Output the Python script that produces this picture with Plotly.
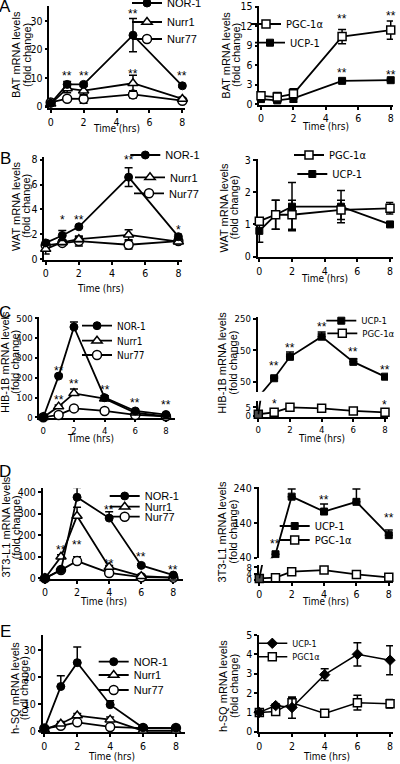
import plotly.graph_objects as go

# ------------------------------------------------------------------ data
t_ab = [0, 1, 2, 5, 8]
t_cde = [0, 1, 2, 4, 6, 8]
x_ticks = [0, 2, 4, 6, 8]

# A  (BAT)
A_nor1 = [1.2, 7.8, 7.8, 25.0, 7.3]
A_nor1_err = [0.4, 1.0, 0.6, 5.8, 0.5]
A_nurr1 = [1.0, 6.4, 5.6, 8.2, 2.7]
A_nurr1_err = [0.5, 1.5, 1.5, 2.8, 0.6]
A_nur77 = [1.5, 2.8, 2.7, 4.3, 2.1]
A_nur77_err = [0.5, 0.5, 1.5, 1.3, 0.5]
A_pgc = [1.3, 1.1, 1.6, 10.4, 11.4]
A_pgc_err = [0.4, 0.7, 0.8, 1.1, 1.4]
A_ucp = [0.8, 0.6, 0.9, 3.6, 3.7]
A_ucp_err = [0.3, 0.3, 0.6, 0.2, 0.2]

# B  (WAT)
B_nor1 = [1.3, 1.9, 2.6, 6.6, 1.8]
B_nor1_err = [0.2, 0.4, 0.1, 0.75, 0.2]
B_nurr1 = [0.8, 1.35, 1.6, 1.95, 1.4]
B_nurr1_err = [0.4, 0.2, 0.2, 0.4, 0.15]
B_nur77 = [1.1, 1.3, 1.45, 1.15, 1.45]
B_nur77_err = [0.2, 0.2, 0.4, 0.35, 0.2]
B_pgc = [1.1, 1.3, 1.3, 1.45, 1.5]
B_pgc_err = [0.1, 0.45, 0.45, 0.3, 0.18]
B_ucp = [0.8, 1.3, 1.55, 1.55, 1.0]
B_ucp_err = [0.35, 0.45, 0.75, 0.5, 0.05]

# C  (HIB-1B)
C_nor1 = [0, 208, 456, 99, 32, 14]
C_nor1_err = [0, 10, 25, 10, 8, 3]
C_nurr1 = [0, 54, 121, 94, 23, 4]
C_nurr1_err = [0, 8, 22, 15, 5, 2]
C_nur77 = [0, 12, 45, 32, 12, 5]
C_nur77_err = [0, 3, 5, 4, 3, 2]
C_ucp = [1, 61, 129, 193, 113, 66]
C_ucp_err = [0, 4, 15, 15, 10, 4]
C_pgc = [1, 2.1, 5.0, 4.4, 2.9, 2.1]
C_pgc_err = [0, 0.3, 0.4, 0.4, 0.3, 0.3]

# D  (3T3-L1)
D_nor1 = [0, 40, 377, 280, 60, 15]
D_nor1_err = [0, 5, 45, 30, 8, 5]
D_nurr1 = [0, 100, 290, 52, 10, 3]
D_nurr1_err = [0, 10, 40, 8, 3, 2]
D_nur77 = [0, 38, 80, 25, 5, 3]
D_nur77_err = [0, 5, 20, 5, 2, 2]
D_ucp = [1, 50, 216, 173, 201, 105]
D_ucp_err = [0, 0, 22, 22, 37, 15]
D_pgc = [1, 1.5, 5.2, 6.2, 3.5, 1.7]
D_pgc_err = [0, 0.3, 0.5, 0.5, 0.4, 0.3]

# E  (h-SQ)
E_nor1 = [1, 16.5, 25.3, 9.8, 1.3, 1.2]
E_nor1_err = [0, 4.0, 5.8, 1.5, 0.3, 0.3]
E_nurr1 = [0.6, 2.8, 5.8, 4.3, 0.2, 0.2]
E_nurr1_err = [0, 0.8, 0.8, 1.0, 0.2, 0.2]
E_nur77 = [1, 2.0, 3.3, 1.6, 1.2, 1.2]
E_nur77_err = [0, 0.3, 0.4, 0.3, 0.2, 0.2]
E_ucp = [1.0, 1.35, 1.25, 2.95, 4.0, 3.7]
E_ucp_err = [0.05, 0.1, 0.55, 0.3, 0.6, 0.75]
E_pgc = [1.0, 1.05, 1.5, 0.95, 1.5, 1.45]
E_pgc_err = [0.05, 0.05, 0.25, 0.05, 0.38, 0.22]

# significance marks: (time, value, label)
A_left_stars = [(1, 11.9, "**"), (2, 11.9, "**"), (5, 33.6, "**"), (5, 12.5, "**"), (8, 11.9, "**")]
A_right_stars = [(5, 13.5, "**"), (8, 14.1, "**"), (5, 5.3, "**"), (8, 5.0, "**")]
B_left_stars = [(1, 3.4, "*"), (2, 3.4, "**"), (5, 8.2, "**"), (8, 2.56, "*")]
C_left_stars = [(1, 249, "**"), (2, 556, "**"), (2, 183, "**"), (1, 104, "**"), (4, 151, "**"), (6, 87, "**"), (8, 76, "**")]
C_right_up_stars = [(1, 108, "**"), (2, 166, "**"), (4, 233, "**"), (6, 154, "**"), (8, 98, "**")]
C_right_low_stars = [(1, 8.8, "*"), (2, 11.7, "**"), (4, 9.6, "**"), (6, 9.2, "*"), (8, 7.9, "*")]
D_left_stars = [(1, 144, "**"), (2, 438, "**"), (2, 167, "**"), (4, 333, "**"), (4, 80, "**"), (6, 113, "**"), (8, 54, "**")]
D_right_up_stars = [(1, 89, "**"), (2, 269, "**"), (4, 216, "**"), (6, 257, "**"), (8, 163, "**")]
D_right_low_stars = [(2, 11.9, "**"), (4, 12.5, "**"), (6, 11.1, "**"), (8, 13.1, "#")]

# ------------------------------------------------------------------ layout helpers
W, H = 400, 764
FONT = "Arial, Liberation Sans, Helvetica, sans-serif"
NARROW = "Liberation Sans Narrow, Arial Narrow, DejaVu Sans Condensed, Arial, Liberation Sans, sans-serif"


def tickfont(size=10.5):
    return dict(size=size, family=NARROW, color="black")


def xaxis(l, r, rng, anchor, fs=10.5):
    return dict(domain=[l / W, r / W], range=rng, anchor=anchor, showline=True,
                linecolor="black", linewidth=1.5, ticks="outside", ticklen=3,
                tickwidth=1.5, tickcolor="black", tickvals=x_ticks, showgrid=False,
                zeroline=False, tickfont=tickfont(fs), layer="below traces")


def yaxis(top, bot, rng, anchor, ticks, fs=10.5):
    return dict(domain=[1 - bot / H, 1 - top / H], range=rng, anchor=anchor, showline=True,
                linecolor="black", linewidth=1.5, ticks="outside", ticklen=3,
                tickwidth=1.5, tickcolor="black", tickvals=ticks, showgrid=False,
                zeroline=False, tickfont=tickfont(fs), layer="below traces")


STYLE = {
    "fcircle": dict(symbol="circle", color="black", size=8, line=dict(color="black", width=1)),
    "otri": dict(symbol="triangle-up", color="white", size=9, line=dict(color="black", width=1.5)),
    "ocircle": dict(symbol="circle", color="white", size=9, line=dict(color="black", width=1.5)),
    "osquare": dict(symbol="square", color="white", size=8, line=dict(color="black", width=1.5)),
    "fsquare": dict(symbol="square", color="black", size=7, line=dict(color="black", width=1)),
    "fdiamond": dict(symbol="diamond", color="black", size=8, line=dict(color="black", width=1)),
}

fig = go.Figure()
layout = {}
annotations = []
legend_count = [0]


def new_legend(text_x, cy, fs=11, fam=FONT):
    legend_count[0] += 1
    n = legend_count[0]
    key = "legend" if n == 1 else "legend%d" % n
    layout[key] = dict(x=(text_x - 37) / W, y=1 - cy / H, xanchor="left", yanchor="middle",
                       bgcolor="rgba(0,0,0,0)", borderwidth=0, itemwidth=30,
                       font=dict(size=fs, family=fam, color="black"), tracegroupgap=0)
    return key


def series(x, y, err, xa, ya, style, name, leg=None, up_only=False, lw=1.8,
           sizes=None, clip=False, show_err=True):
    m = dict(STYLE[style])
    if sizes is not None:
        m["size"] = sizes
    tr = dict(x=x, y=y, xaxis=xa, yaxis=ya, mode="lines+markers", name=name,
              line=dict(color="black", width=lw), marker=m, cliponaxis=clip,
              showlegend=leg is not None)
    if leg is not None:
        tr["legend"] = leg
    if show_err and err is not None:
        tr["error_y"] = dict(type="data", array=err,
                             arrayminus=[0] * len(err) if up_only else err,
                             symmetric=False, color="black", thickness=1.5, width=4)
    fig.add_trace(go.Scatter(**tr))


def stars(lst, xa, ya):
    for (tx, vy, lab) in lst:
        annotations.append(dict(x=tx, y=vy, xref=xa, yref=ya, text=lab, showarrow=False,
                                font=dict(size=12, family=FONT, color="black"),
                                xanchor="center", yanchor="middle",
                                yshift=-3 if lab.startswith("*") else 0))


def ytitle(l1, l2, x1, x2, cy):
    for txt, xx in ((l1, x1), (l2, x2)):
        annotations.append(dict(x=xx / W, y=1 - cy / H, xref="paper", yref="paper", text=txt,
                                textangle=-90, showarrow=False, xanchor="center", yanchor="middle",
                                font=dict(size=11, family=FONT, color="black")))


def xtitle(cx, cy):
    annotations.append(dict(x=cx / W, y=1 - cy / H, xref="paper", yref="paper", text="Time (hrs)",
                            showarrow=False, xanchor="center", yanchor="middle",
                            font=dict(size=10, family=NARROW, color="black")))


def letter(txt, cx, cy):
    annotations.append(dict(x=cx / W, y=1 - cy / H, xref="paper", yref="paper", text=txt,
                            showarrow=False, xanchor="center", yanchor="middle",
                            font=dict(size=17, family=FONT, color="black")))


# ------------------------------------------------------------------ panel A
layout["xaxis"] = xaxis(49.3, 185, [-0.085, 8.16], "y")
layout["yaxis"] = yaxis(6, 108.3, [-0.56, 35.2], "x", [0, 10, 20, 30])
series(t_ab, A_nur77, A_nur77_err, "x", "y", "ocircle", "Nur77", new_legend(164, 39))
series(t_ab, A_nurr1, A_nurr1_err, "x", "y", "otri", "Nurr1", new_legend(164, 22))
series(t_ab, A_nor1, A_nor1_err, "x", "y", "fcircle", "NOR-1", new_legend(164, 3))
stars(A_left_stars, "x", "y")
ytitle("BAT mRNA levels", "(fold change)", 16, 27, 55)
xtitle(116.7, 128.3)
letter("A", 5, 7)

layout["xaxis2"] = xaxis(259.3, 393, [-0.105, 8.14], "y2")
layout["yaxis2"] = yaxis(6, 105, [-0.11, 15.1], "x2", [0, 3, 6, 9, 12, 15])
series(t_ab, A_ucp, A_ucp_err, "x2", "y2", "fsquare", "UCP-1", new_legend(287, 42.7, 11, NARROW))
series(t_ab, A_pgc, A_pgc_err, "x2", "y2", "osquare", "PGC-1α", new_legend(283, 24, 11, NARROW))
stars(A_right_stars, "x2", "y2")
ytitle("BAT mRNA levels", "(fold change)", 225.7, 236, 55)
xtitle(325, 126.7)

# ------------------------------------------------------------------ panel B
layout["xaxis3"] = xaxis(44.3, 181.7, [-0.084, 8.2], "y3")
layout["yaxis3"] = yaxis(156.7, 260, [-0.08, 8.25], "x3", [0, 2, 4, 6, 8])
series(t_ab, B_nur77, B_nur77_err, "x3", "y3", "ocircle", "Nur77", new_legend(166, 193.3))
series(t_ab, B_nurr1, B_nurr1_err, "x3", "y3", "otri", "Nurr1", new_legend(167, 177.3))
series(t_ab, B_nor1, B_nor1_err, "x3", "y3", "fcircle", "NOR-1", new_legend(162.3, 155))
stars(B_left_stars, "x3", "y3")
ytitle("WAT mRNA levels", "(fold change)", 16, 26, 206)
xtitle(100.7, 288.3)
letter("B", 5, 158)

layout["xaxis4"] = xaxis(257.7, 393.3, [-0.1, 8.2], "y4")
layout["yaxis4"] = yaxis(159.3, 257.3, [-0.02, 3.02], "x4", [0, 1, 2, 3])
series(t_ab, B_ucp, B_ucp_err, "x4", "y4", "fsquare", "UCP-1", new_legend(329.3, 174, 11, NARROW))
series(t_ab, B_pgc, B_pgc_err, "x4", "y4", "osquare", "PGC-1α", new_legend(326, 155, 11, NARROW))
ytitle("WAT mRNA levels", "(fold change)", 224, 234, 207.5)
xtitle(324, 278.3)

# ------------------------------------------------------------------ panel C
layout["xaxis5"] = xaxis(39.3, 175, [-0.26, 8.59], "y5", 9.5)
layout["yaxis5"] = yaxis(316.7, 417.7, [-2, 508], "x5", [0, 100, 200, 300, 400, 500], 9.5)
series(t_cde, C_nur77, C_nur77_err, "x5", "y5", "ocircle", "Nur77", new_legend(114, 355, 10, NARROW), up_only=True)
series(t_cde, C_nurr1, C_nurr1_err, "x5", "y5", "otri", "Nurr1", new_legend(114, 340.7, 10, NARROW), up_only=True)
series(t_cde, C_nor1, C_nor1_err, "x5", "y5", "fcircle", "NOR-1", new_legend(114, 325.7, 10, NARROW), up_only=True)
stars(C_left_stars, "x5", "y5")
ytitle("HIB-1B mRNA levels", "(fold change)", 5, 15, 362)
xtitle(90, 438.3)
letter("C", 5, 313)

layout["xaxis6"] = xaxis(257.5, 388, [-0.05, 8.19], "y6", 9.5)
layout["yaxis6"] = yaxis(400.7, 417.3, [-0.75, 8.8], "x6", [0, 5], 9.5)
layout["yaxis7"] = yaxis(317, 391.7, [18.3, 255.4], "x6", [50, 150, 250], 9.5)
series(t_cde, C_pgc, C_pgc_err, "x6", "y6", "osquare", "PGC-1α", new_legend(359.3, 333.3, 9.5, NARROW), up_only=True)
series(t_cde[:2], C_ucp[:2], None, "x6", "y6", "fsquare", "UCP-1", None, sizes=[7, 0], clip=False)
series(t_cde, C_ucp, C_ucp_err, "x6", "y7", "fsquare", "UCP-1", new_legend(358.3, 320.7, 9.5, NARROW), up_only=True, clip=True)
stars(C_right_up_stars, "x6", "y7")
stars(C_right_low_stars, "x6", "y6")
ytitle("HIB-1B mRNA levels", "(fold change)", 221.7, 232.7, 363)
xtitle(321.7, 438.3)

# ------------------------------------------------------------------ panel D
layout["xaxis7"] = xaxis(42.7, 183, [-0.14, 8.6], "y8")
layout["yaxis8"] = yaxis(488.3, 579, [-3.3, 418.6], "x7", [0, 100, 200, 300, 400])
series(t_cde, D_nur77, D_nur77_err, "x7", "y8", "ocircle", "Nur77", new_legend(141.7, 516.7), up_only=True)
series(t_cde, D_nurr1, D_nurr1_err, "x7", "y8", "otri", "Nurr1", new_legend(141.7, 506.7), up_only=True)
series(t_cde, D_nor1, D_nor1_err, "x7", "y8", "fcircle", "NOR-1", new_legend(141.7, 496), up_only=True)
stars(D_left_stars, "x7", "y8")
ytitle("3T3-L1 mRNA levels", "(fold change)", 5, 15, 527.5)
xtitle(103.3, 601.7)
letter("D", 5, 471)

layout["xaxis8"] = xaxis(258.5, 393, [-0.05, 8.26], "y9")
layout["yaxis9"] = yaxis(565, 581, [-0.6, 9.4], "x8", [0, 4, 8], 9.5)
layout["yaxis10"] = yaxis(486.7, 558.3, [38.3, 244.6], "x8", [40, 140, 240])
series(t_cde, D_pgc, D_pgc_err, "x8", "y9", "osquare", "PGC-1α", new_legend(311.7, 540, 11, NARROW), up_only=True)
series(t_cde[:2], D_ucp[:2], None, "x8", "y9", "fsquare", "UCP-1", None, sizes=[7, 0], clip=False)
series(t_cde, D_ucp, D_ucp_err, "x8", "y10", "fsquare", "UCP-1", new_legend(311.7, 526, 11, NARROW), up_only=True, clip=True)
stars(D_right_up_stars, "x8", "y10")
stars(D_right_low_stars, "x8", "y9")
ytitle("3T3-L1 mRNA levels", "(fold change)", 221.7, 233, 531.7)
xtitle(325, 601)

# ------------------------------------------------------------------ panel E
layout["xaxis9"] = xaxis(42.7, 185, [-0.1, 8.55], "y11")
layout["yaxis11"] = yaxis(635, 732.3, [-0.37, 35.5], "x9", [0, 10, 20, 30])
series(t_cde, E_nur77, E_nur77_err, "x9", "y11", "ocircle", "Nur77", new_legend(130.7, 690), up_only=True)
series(t_cde, E_nurr1, E_nurr1_err, "x9", "y11", "otri", "Nurr1", new_legend(130.7, 675), up_only=True)
series(t_cde, E_nor1, E_nor1_err, "x9", "y11", "fcircle", "NOR-1", new_legend(130.7, 661.7), up_only=True)
ytitle("h-SQ mRNA levels", "(fodl change)", 15, 24.3, 688)
xtitle(111.7, 756.7)
letter("E", 5, 631)

layout["xaxis10"] = xaxis(259, 393, [-0.02, 8.18], "y12")
layout["yaxis12"] = yaxis(635, 732.3, [-0.03, 5.0], "x10", [0, 1, 2, 3, 4, 5])
series(t_cde, E_pgc, E_pgc_err, "x10", "y12", "osquare", "PGC1α", new_legend(289.3, 656.7, 9, NARROW), lw=1.5)
series(t_cde, E_ucp, E_ucp_err, "x10", "y12", "fdiamond", "UCP-1", new_legend(289.3, 643.3, 9, NARROW), lw=1.5)
ytitle("h-SQ mRNA levels", "(fold change)", 223, 234, 686)
xtitle(326.7, 756.7)

fig.update_layout(width=W, height=H, margin=dict(l=0, r=0, t=0, b=0, autoexpand=False),
                  paper_bgcolor="white", plot_bgcolor="white",
                  font=dict(family=FONT, size=11, color="black"),
                  annotations=annotations, showlegend=True, **layout)
fig.write_html(
    "out.html",
    config={"displayModeBar": False},
    post_script="document.body.style.margin='0px';document.body.style.padding='0px';"
                "document.documentElement.style.overflow='hidden';",
)
